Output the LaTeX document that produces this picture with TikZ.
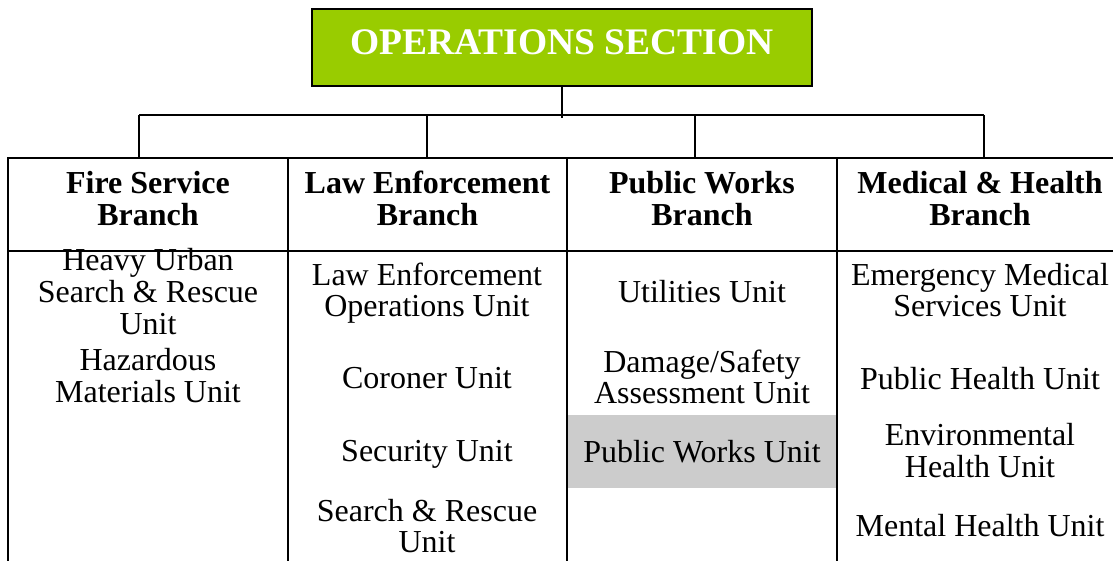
\documentclass[tikz,border=0pt]{standalone}
\usepackage{fontspec}
\setmainfont{Liberation Serif}
\definecolor{opgreen}{HTML}{99CC00}
\definecolor{cellgrey}{HTML}{CCCCCC}
\begin{document}
\begin{tikzpicture}[x=1pt,y=-1pt,
  unit/.style={font=\fontsize{32}{31.5}\selectfont, align=center, inner sep=0pt},
  hdr/.style={unit, font=\fontsize{32}{31.5}\selectfont\bfseries},
  grid/.style={line width=2.6pt},
  conn/.style={line width=1.8pt},
  titlebox/.style={draw=black, line width=2pt, fill=opgreen, text=white,
    font=\fontsize{37.5}{40}\selectfont\bfseries,
    minimum width=500pt, minimum height=77pt, inner sep=0pt}]
\useasboundingbox (0,0) rectangle (1113,560);

% title
\node[titlebox] (ops) at (562,47.5) {\raisebox{5.5pt}[\height][\depth]{OPERATIONS SECTION}};

% connector bus
\coordinate (bus) at (562,115);
\coordinate (d1) at (139,115);
\coordinate (d2) at (427,115);
\coordinate (d3) at (695,115);
\coordinate (d4) at (984,115);
\coordinate (tabtop) at (0,158);
\draw[conn] (ops.south) -- ([yshift=-3pt]ops.south |- bus);
\draw[conn] (d1) -- (d4);
\foreach \d in {d1,d2,d3,d4} \draw[conn] (\d) -- (\d |- tabtop);

% grey cell
\fill[cellgrey] (568,415) rectangle (836,488);

% table lines
\draw[grid] (8,575) -- (8,158) -- (1130,158);
\draw[grid] (8,251) -- (1130,251);
\foreach \x in {288,567,837,1123} \draw[grid] (\x,158) -- (\x,575);

% headers
\node[hdr] (fire) at (148,203) {\strut Fire Service\\Branch\strut};
\node[hdr] (law)  at (427.5,203) {\strut Law Enforcement\\Branch\strut};
\node[hdr] (pw)   at (702,203) {\strut Public Works\\Branch\strut};
\node[hdr] (med)  at (980,203) {\strut Medical \& Health\\Branch\strut};

% fire units
\node[unit] (hus) at (148,295.7) {\strut Heavy Urban\\Search \& Rescue\\Unit\strut};
\node[unit] (haz) at (148,380.2) {\strut Hazardous\\Materials Unit\strut};

% law units
\node[unit] (leo) at (427,294.5) {\strut Law Enforcement\\Operations Unit\strut};
\node[unit] (cor) at (427,381.7) {\strut Coroner Unit\strut};
\node[unit] (sec) at (427,454.7) {\strut Security Unit\strut};
\node[unit] (sar) at (427,530.5) {\strut Search \& Rescue\\Unit\strut};

% public works units
\node[unit] (utl) at (702,295.7) {\strut Utilities Unit\strut};
\node[unit] (dsa) at (702,381.5) {\strut Damage/Safety\\Assessment Unit\strut};
\node[unit] (pwu) at (702,455.7) {\strut Public Works Unit\strut};

% medical units
\node[unit] (ems) at (980,294.5) {\strut Emergency Medical\\Services Unit\strut};
\node[unit] (phu) at (980,382.7) {\strut Public Health Unit\strut};
\node[unit] (ehu) at (980,455) {\strut Environmental\\Health Unit\strut};
\node[unit] (mhu) at (980,529.7) {\strut Mental Health Unit\strut};
\end{tikzpicture}
\end{document}
